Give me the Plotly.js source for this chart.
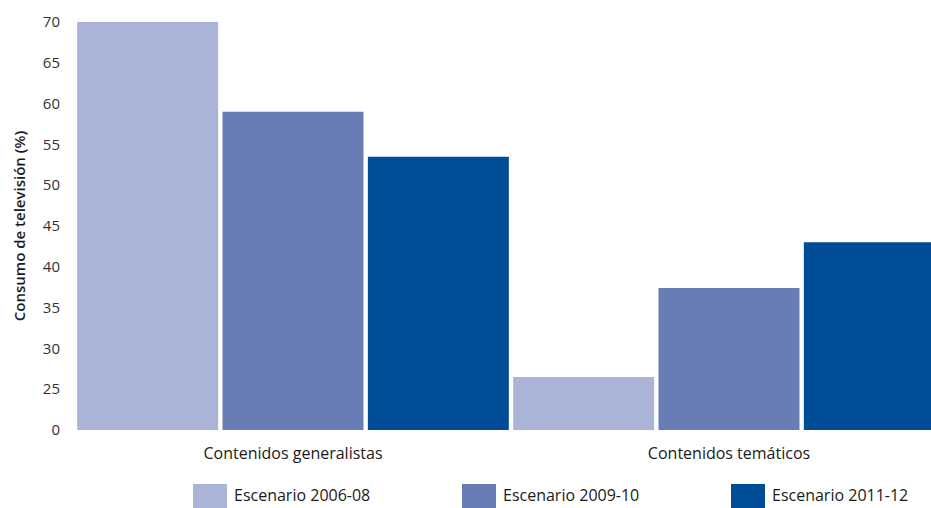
<!DOCTYPE html>
<html>
<head>
<meta charset="utf-8">
<script src="https://cdn.plot.ly/plotly-3.0.1.min.js"></script>
<style>html,body{margin:0;padding:0;background:#fff;}#chart{width:931px;height:508px;}</style>
</head>
<body>
<div id="chart"></div>
<script>
var categories = ["Contenidos generalistas", "Contenidos temáticos"];
var seriesNames = ["Escenario 2006-08", "Escenario 2009-10", "Escenario 2011-12"];
var values2006 = [70, 26.5];
var values2009 = [59, 37.4];
var values2011 = [53.5, 43];
var tickVals = [20, 25, 30, 35, 40, 45, 50, 55, 60, 65, 70];
var tickText = ["0", "25", "30", "35", "40", "45", "50", "55", "60", "65", "70"];
var colors = ["#aab4d8", "#687cb5", "#004c97"];
var seriesValues = [values2006, values2009, values2011];

var FONT = "'Open Sans', Lato, sans-serif";

var traces = seriesValues.map(function (v, i) {
  return {
    type: "bar",
    x: categories,
    y: v,
    name: seriesNames[i],
    marker: { color: colors[i], line: { color: "#ffffff", width: 0 } },
    hoverinfo: "none"
  };
});

// custom legend (large swatches)
var legendX = [193, 462, 731];
var plotL = 75, plotW = 856, plotT = 22, plotH = 408;
function px(x) { return (x - plotL) / plotW; }
function py(y) { return (plotT + plotH - y) / plotH; }
var shapes = [], annotations = [];
seriesNames.forEach(function (n, i) {
  shapes.push({
    type: "rect", xref: "paper", yref: "paper",
    x0: px(legendX[i]), x1: px(legendX[i] + 34),
    y0: py(484), y1: py(510),
    fillcolor: colors[i], line: { width: 0 }, layer: "above"
  });
  annotations.push({
    xref: "paper", yref: "paper", x: px(legendX[i] + 39), y: py(495),
    xanchor: "left", yanchor: "middle", text: n, showarrow: false,
    font: { family: FONT, size: 16, color: "#1a1a1a" }
  });
});

var layout = {
  width: 931, height: 508,
  margin: { l: plotL, r: 931 - plotL - plotW, t: plotT, b: 508 - plotT - plotH, pad: 0 },
  paper_bgcolor: "#ffffff", plot_bgcolor: "#ffffff",
  barmode: "group", bargap: 0, bargroupgap: 0.03,
  showlegend: false,
  font: { family: FONT, color: "#333" },
  xaxis: {
    range: [-0.5, -0.5 + plotW / 436],
    showgrid: false, zeroline: false, showline: false,
    ticks: "outside", ticklen: 9, tickcolor: "rgba(0,0,0,0)",
    tickfont: { size: 16, color: "#1a1a1a" }
  },
  yaxis: {
    range: [20, 70],
    tickvals: tickVals, ticktext: tickText,
    showgrid: false, zeroline: false, showline: false,
    ticks: "outside", ticklen: 11, tickcolor: "rgba(0,0,0,0)",
    tickfont: { size: 15, color: "#333" },
    title: { text: "Consumo de televisión (%)", standoff: 13, font: { size: 15, color: "#1a1a1a", weight: 600 } }
  },
  shapes: shapes,
  annotations: annotations
};

Plotly.newPlot("chart", traces, layout, { staticPlot: true, displayModeBar: false });
</script>
</body>
</html>
